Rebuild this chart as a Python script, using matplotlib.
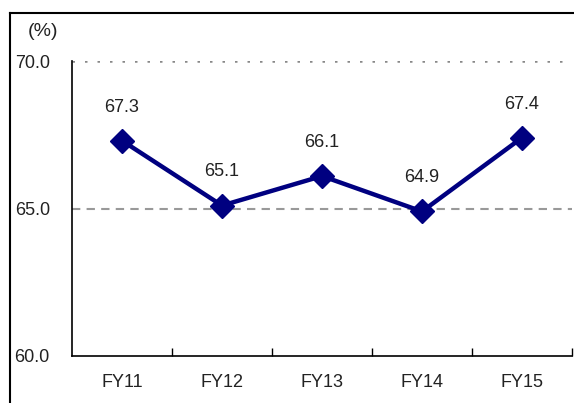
import matplotlib.pyplot as plt
from matplotlib.lines import Line2D

years = ['FY11', 'FY12', 'FY13', 'FY14', 'FY15']
values = [67.3, 65.1, 66.1, 64.9, 67.4]
yticks = [60.0, 65.0, 70.0]

plt.rcParams['font.family'] = ['Liberation Sans', 'DejaVu Sans']
txt_color = '#222222'

fig = plt.figure(figsize=(5.74, 4.03), dpi=100)
ax = fig.add_axes([72 / 574, 47 / 403, 500 / 574, 295 / 403])

# outer frame
fig.add_artist(Line2D([10 / 574, 10 / 574], [0, 1 - 13 / 403], transform=fig.transFigure,
                      color='black', lw=1.5))
fig.add_artist(Line2D([10 / 574, 1], [1 - 13 / 403, 1 - 13 / 403], transform=fig.transFigure,
                      color='black', lw=1.5))

x = list(range(len(years)))
ax.axhline(70, color='#888888', lw=1.8, ls=(0, (1, 4)), zorder=1)
ax.axhline(65, color='#999999', lw=1.5, ls=(0, (4, 3)), zorder=1)

ax.plot(x, values, color='#000080', lw=3.2, marker='D', markersize=12, zorder=3)
for xi, v in zip(x, values):
    ax.text(xi, v + 0.85, f'{v:.1f}', ha='center', va='bottom', fontsize=13, color=txt_color)

ax.set_xlim(-0.5, 4.5)
ax.set_ylim(60, 70)
ax.set_yticks(yticks)
ax.set_yticklabels([f'{t:.1f}' for t in yticks], fontsize=13, color=txt_color)
ax.set_xticks(x)
ax.set_xticklabels(years, fontsize=13, color=txt_color)
ax.set_xticks([i + 0.5 for i in x], minor=True)
ax.tick_params(axis='x', which='major', length=0, pad=13)
ax.tick_params(axis='x', which='minor', direction='in', length=6, width=1)
ax.tick_params(axis='y', direction='in', length=0, pad=16)

for s in ['top', 'right']:
    ax.spines[s].set_visible(False)
for s in ['left', 'bottom']:
    ax.spines[s].set_linewidth(1.2)

fig.text(28 / 574, 1 - 31 / 403, '(%)', fontsize=14, ha='left', va='center', color=txt_color)

fig.savefig('out.png', dpi=100)
